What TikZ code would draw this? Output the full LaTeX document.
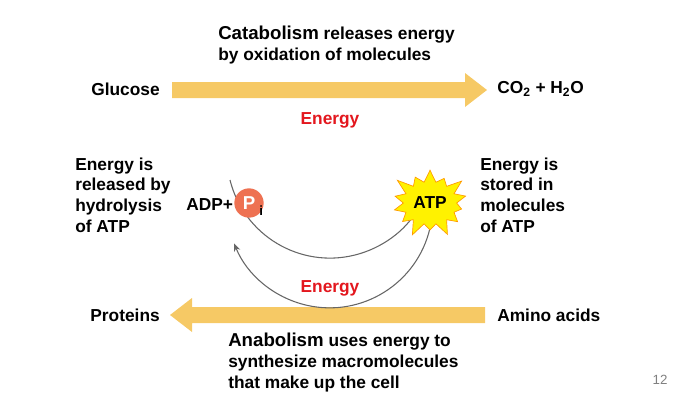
\documentclass[tikz,border=0pt]{standalone}
\usepackage{fontspec}
\setmainfont{Liberation Sans}
\usetikzlibrary{shapes.symbols,arrows.meta}
\definecolor{arrowyel}{HTML}{F6C965}
\definecolor{ered}{HTML}{E3171E}
\definecolor{porange}{HTML}{EE7152}
\tikzset{
  lbl/.style={font=\fontsize{13}{15.5}\selectfont\bfseries, inner sep=0pt, align=left},
  en/.style={font=\fontsize{13}{15.5}\selectfont\bfseries, text=ered, inner sep=0pt},
  cyc/.style={draw=gray!80!black, line width=0.8pt, -{Stealth[length=6pt,width=5pt]}},
  bigarrow/.style={fill=arrowyel, draw=none}
}
\begin{document}
\begin{tikzpicture}[x=0.75pt,y=-0.75pt]
\useasboundingbox (0,0) rectangle (700,405);
% top arrow
\fill[bigarrow] (172,82) -- (465,82) -- (465,73) -- (487,90) -- (465,107) -- (465,98) -- (172,98) -- cycle;
\fill[bigarrow] (485,307) -- (192,307) -- (192,298) -- (170,315) -- (192,332) -- (192,323) -- (485,323) -- cycle;
\node[lbl, anchor=west] (cat) at (218,45) {{\fontsize{14}{15.5}\selectfont Catabolism} releases energy\\by oxidation of molecules};
\node[lbl, anchor=east] (glu) at (160,89) {Glucose};
\node[lbl, anchor=west] (co2) at (497,89) {CO$_\mathbf{2}$ + H$_\mathbf{2}$O};
\node[lbl, anchor=east] (pro) at (160,315) {Proteins};
\node[lbl, anchor=west] (ami) at (497,315) {Amino acids};
\node[lbl, anchor=north west] (ana) at (228,333) {{\fontsize{14}{15.5}\selectfont Anabolism} uses energy to\\synthesize macromolecules\\that make up the cell};
\node[lbl, anchor=west] (left) at (75,195) {Energy is\\released by\\hydrolysis\\of ATP};
\node[lbl, anchor=west] (right) at (480,195) {Energy is\\stored in\\molecules\\of ATP};
% cycle arcs
\coordinate (c) at (330,205);
\draw[cyc] (230,180) arc[start angle=194, end angle=330, x radius=103, y radius=-103];
\draw[cyc] (430,228) arc[start angle=13, end angle=158, x radius=103, y radius=103];
\node[en] (e1) at (330,120) {Energy};
\node[en] (e2) at (330,288) {Energy};
% ADP + Pi
\node[lbl, anchor=west] (adp) at (186,205) {ADP+};
\node[circle, fill=porange, minimum size=22pt, inner sep=0pt, text=white, font=\fontsize{14}{15}\selectfont\bfseries] (p) at (249,203) {P};
\node[lbl, anchor=west, font=\fontsize{10}{12}\selectfont\bfseries] (i) at (259,211) {i};
% ATP star
\node[starburst, starburst points=14, starburst point height=12pt, fill=yellow, draw=orange!80!yellow, line width=0.5pt, minimum width=64pt, minimum height=56pt, inner sep=0pt, font=\fontsize{13}{15}\selectfont\bfseries] (atp) at (430,203) {ATP};
\node[font=\fontsize{10}{12}\selectfont, text=gray, inner sep=0pt] (pg) at (660,380) {12};
\end{tikzpicture}
\end{document}
